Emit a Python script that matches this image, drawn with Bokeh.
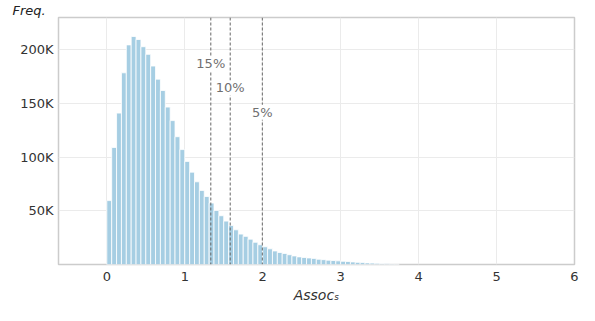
from bokeh.plotting import figure
from bokeh.models import ColumnDataSource, Span, LabelSet, FixedTicker, Range1d
from bokeh.core.properties import value
from bokeh.embed import file_html
from bokeh.resources import INLINE

# ---- data ----
bin_width = 1 / 16
freq = [59.5, 109, 141, 178.5, 204.5, 212.3, 209.5, 202.8, 195.7, 184.8,
        172.6, 162, 146.6, 134, 119, 107, 96, 86, 77, 69,
        63.3, 57.2, 50.3, 45.4, 40.4, 36.4, 32.3, 28.3, 26.2, 23.6,
        20.7, 18.4, 16.5, 14.6, 12.6, 11.2, 10.3, 9.1, 8.0, 7.1,
        6.5, 6.1, 5.7, 4.9, 4.5, 4.0, 3.7, 3.4, 3.0, 2.8,
        2.4, 2.0, 1.8, 1.5, 1.3, 1.1, 0.8, 0.6, 0.4, 0.3]  # thousands
thresholds = [1.334, 1.583, 1.995]
threshold_labels = ["15%", "10%", "5%"]
y_ticks = [50000, 100000, 150000, 200000]
y_tick_labels = ["50K", "100K", "150K", "200K"]
x_ticks = [0, 1, 2, 3, 4, 5, 6]

centers = [(i + 0.5) * bin_width for i in range(len(freq))]
counts = [f * 1000 for f in freq]

W, H = 579, 305
p = figure(width=W, height=H, output_backend="svg", toolbar_location=None,
           x_range=Range1d(-0.62, 6.0), y_range=Range1d(0, 230000),
           min_border_left=58, min_border_right=5, min_border_top=0,
           min_border_bottom=30, title="Freq.")

p.title.align = "left"
p.title.offset = -46
p.title.standoff = 0
p.title.text_font = "DejaVu Sans"
p.title.text_font_style = "italic"
p.title.text_font_size = "13px"
p.title.text_color = "#222222"

p.vbar(x=centers, top=counts, width=bin_width, fill_color="#a6cee3",
       line_color="white", line_width=0.8)

for t in thresholds:
    p.add_layout(Span(location=t, dimension="height", line_color="#666666",
                      line_width=1, line_dash="3 2"))

lab_y = [187000 - i * 22600 for i in range(len(thresholds))]
src = ColumnDataSource(dict(x=thresholds, y=lab_y, t=threshold_labels))
p.add_layout(LabelSet(x="x", y="y", text="t", source=src, text_align="center",
                      text_baseline="middle", text_font=value("DejaVu Sans"),
                      text_font_size=value("13px"), text_color=value("#707070"),
                      background_fill_color="white"))

p.outline_line_color = "#cccccc"
p.outline_line_width = 1.5
p.background_fill_color = "white"

p.xaxis.ticker = FixedTicker(ticks=x_ticks)
p.yaxis.ticker = FixedTicker(ticks=y_ticks)
p.yaxis.major_label_overrides = {t: l for t, l in zip(y_ticks, y_tick_labels)}
for ax in (p.xaxis, p.yaxis):
    ax.axis_line_color = None
    ax.major_tick_line_color = None
    ax.minor_tick_line_color = None
    ax.major_tick_out = 0
    ax.major_tick_in = 0
    ax.minor_tick_out = 0
    ax.major_label_text_font = "DejaVu Sans"
    ax.major_label_text_font_size = "13px"
    ax.major_label_text_color = "#333333"
p.yaxis.major_label_standoff = 5
p.xaxis.major_label_standoff = 7

p.xaxis.axis_label = "Assoc\u209b"
p.xaxis.axis_label_text_font = "DejaVu Sans"
p.xaxis.axis_label_text_font_style = "italic"
p.xaxis.axis_label_text_font_size = "14px"
p.xaxis.axis_label_text_color = "#333333"
p.xaxis.axis_label_standoff = 3

p.xgrid.grid_line_color = "#ebebeb"
p.ygrid.grid_line_color = "#ebebeb"

open("out.html", "w").write(file_html(p, INLINE))
